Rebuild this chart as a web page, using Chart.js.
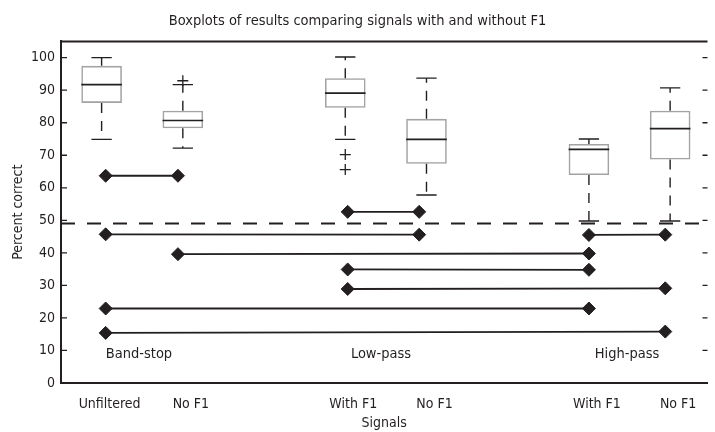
<!DOCTYPE html>
<html>
<head>
<meta charset="utf-8">
<script src="https://cdn.jsdelivr.net/npm/chart.js@4.4.1/dist/chart.umd.min.js"></script>
<style>
    html, body { margin: 0; padding: 0; background: #fff; }
    #wrap { width: 715px; height: 432px; }
</style>
</head>
<body>
<div id="wrap"><canvas id="boxChart" width="715" height="432"></canvas></div>
<script>
// Categorías del eje x y su posición
const categories = ['Unfiltered', 'No F1', 'With F1', 'No F1', 'With F1', 'No F1'];
const catPos = [0, 1, 3, 4, 6, 7];

// Estadísticas de cada boxplot
const whiskerLow  = [74.9, 72.2, 74.9, 57.8, 49.8, 49.8];
const q1          = [86.1, 78.3, 84.6, 67.4, 63.9, 68.7];
const medians     = [91.7, 80.7, 89.1, 74.9, 71.8, 78.2];
const q3          = [97.5, 83.7, 93.7, 81.2, 73.5, 83.7];
const whiskerHigh = [100.0, 91.7, 100.2, 93.7, 75.0, 90.7];
const outlierCat = [1, 2, 2];
const outlierVal = [92.9, 70.2, 65.6];

// Comparaciones por pares (rombos unidos)
const diamondPos  = [0.05, 0.94, 3.03, 3.91, 6.0, 6.94];
const pairFrom    = [0, 2, 0, 4, 1, 2, 2, 0, 0];
const pairTo      = [1, 3, 3, 5, 4, 4, 5, 4, 5];
const pairFromVal = [63.7, 52.6, 45.7, 45.5, 39.6, 34.9, 28.9, 22.9, 15.4];
const pairToVal   = [63.7, 52.6, 45.6, 45.6, 39.8, 34.8, 29.1, 22.9, 15.8];

const chanceLevel = 49;
const yTicks = [0, 10, 20, 30, 40, 50, 60, 70, 80, 90, 100];

const groupLabels = ['Band-stop', 'Low-pass', 'High-pass'];
const groupLabelPos = [0.46, 3.44, 6.47];
const groupLabelVal = 8.8;

const FONT = "'DejaVu Sans Condensed', 'Liberation Sans Narrow', sans-serif";
const INK = '#231f20';
const xMin = -0.5, xMax = 7.46;

// Bigotes, medianas, marco y etiquetas de grupo
const boxExtras = {
    id: 'boxExtras',
    afterDatasetsDraw(chart) {
        const { ctx, chartArea, scales: { x, y } } = chart;
        const half = (x.getPixelForValue(0.25) - x.getPixelForValue(0));
        const capHalf = half / 2;
        ctx.save();
        catPos.forEach((c, i) => {
            const px = x.getPixelForValue(c);
            // bigotes discontinuos
            ctx.strokeStyle = INK;
            ctx.lineWidth = 1.4;
            ctx.setLineDash([10, 8]);
            ctx.beginPath();
            ctx.moveTo(px, y.getPixelForValue(q3[i]));
            ctx.lineTo(px, y.getPixelForValue(whiskerHigh[i]));
            ctx.moveTo(px, y.getPixelForValue(q1[i]));
            ctx.lineTo(px, y.getPixelForValue(whiskerLow[i]));
            ctx.stroke();
            ctx.setLineDash([]);
            // extremos
            ctx.beginPath();
            [whiskerHigh[i], whiskerLow[i]].forEach(v => {
                const py = y.getPixelForValue(v);
                ctx.moveTo(px - capHalf, py);
                ctx.lineTo(px + capHalf, py);
            });
            ctx.stroke();
            // mediana
            const pm = y.getPixelForValue(medians[i]);
            ctx.lineWidth = 1.6;
            ctx.beginPath();
            ctx.moveTo(px - half, pm);
            ctx.lineTo(px + half, pm);
            ctx.stroke();
        });

        // marco superior y marcas hacia dentro
        ctx.lineWidth = 2;
        ctx.beginPath();
        ctx.moveTo(chartArea.left, chartArea.top);
        ctx.lineTo(chartArea.right, chartArea.top);
        ctx.stroke();
        ctx.lineWidth = 1.3;
        ctx.beginPath();
        yTicks.forEach(v => {
            const py = y.getPixelForValue(v);
            ctx.moveTo(chartArea.left, py);
            ctx.lineTo(chartArea.left + 6, py);
            ctx.moveTo(chartArea.right - 5, py);
            ctx.lineTo(chartArea.right, py);
        });
        ctx.stroke();

        // etiquetas de grupo
        ctx.fillStyle = INK;
        ctx.font = '14.5px ' + FONT;
        ctx.textAlign = 'center';
        ctx.textBaseline = 'middle';
        groupLabels.forEach((t, i) => {
            ctx.fillText(t, x.getPixelForValue(groupLabelPos[i]), y.getPixelForValue(groupLabelVal));
        });
        ctx.restore();
    }
};

const pairSets = pairFrom.map((f, i) => ({
    type: 'line',
    data: [
        { x: diamondPos[f], y: pairFromVal[i] },
        { x: diamondPos[pairTo[i]], y: pairToVal[i] }
    ],
    borderColor: INK,
    borderWidth: 1.8,
    pointStyle: 'rectRot',
    pointRadius: 6.5,
    pointBackgroundColor: INK,
    pointBorderColor: INK,
    pointBorderWidth: 1
}));

const ctx = document.getElementById('boxChart').getContext('2d');
new Chart(ctx, {
    type: 'scatter',
    data: {
        datasets: [
            {
                type: 'bar',
                data: catPos.map((c, i) => ({ x: c, y: [q1[i], q3[i]] })),
                backgroundColor: 'rgba(255,255,255,0)',
                borderColor: '#a3a3a3',
                borderWidth: 1.6,
                borderSkipped: false,
                categoryPercentage: 1,
                barPercentage: 0.5
            },
            {
                type: 'scatter',
                data: outlierCat.map((c, i) => ({ x: catPos[c], y: outlierVal[i] })),
                pointStyle: 'cross',
                pointRadius: 5.5,
                borderColor: INK,
                borderWidth: 1.3
            },
            {
                type: 'line',
                data: [{ x: xMin, y: chanceLevel }, { x: xMax, y: chanceLevel }],
                borderColor: INK,
                borderWidth: 2,
                borderDash: [14, 12],
                pointRadius: 0
            },
            ...pairSets
        ]
    },
    options: {
        responsive: false,
        animation: false,
        layout: { padding: 0 },
        plugins: {
            legend: { display: false },
            tooltip: { enabled: false },
            title: {
                display: true,
                text: 'Boxplots of results comparing signals with and without F1',
                color: INK,
                font: { family: FONT, size: 14.5, weight: 'normal' },
                padding: { top: 13, bottom: 11 }
            }
        },
        scales: {
            x: {
                type: 'linear',
                min: xMin,
                max: xMax,
                offset: false,
                grid: { display: false, drawTicks: false, offset: false },
                border: { display: true, color: INK, width: 2 },
                afterBuildTicks: s => { s.ticks = catPos.map(v => ({ value: v })); },
                afterFit: s => { s.height = 49; },
                ticks: {
                    color: INK,
                    font: { family: FONT, size: 14 },
                    padding: 13,
                    labelOffset: 8,
                    maxRotation: 0,
                    autoSkip: false,
                    callback: (v) => categories[catPos.indexOf(v)]
                },
                title: {
                    display: true,
                    text: 'Signals',
                    color: INK,
                    font: { family: FONT, size: 14 },
                    padding: { top: 3, bottom: 0 }
                }
            },
            y: {
                min: 0,
                max: 105,
                grid: { display: false, drawTicks: false },
                border: { display: true, color: INK, width: 2 },
                afterBuildTicks: s => { s.ticks = yTicks.map(v => ({ value: v })); },
                afterFit: s => { s.width = 61; },
                ticks: {
                    color: INK,
                    font: { family: FONT, size: 14 },
                    padding: 6
                },
                title: {
                    display: true,
                    text: 'Percent correct',
                    color: INK,
                    font: { family: FONT, size: 14 },
                    padding: { top: 9.5, bottom: 0 }
                }
            }
        }
    },
    plugins: [boxExtras]
});
</script>
</body>
</html>
